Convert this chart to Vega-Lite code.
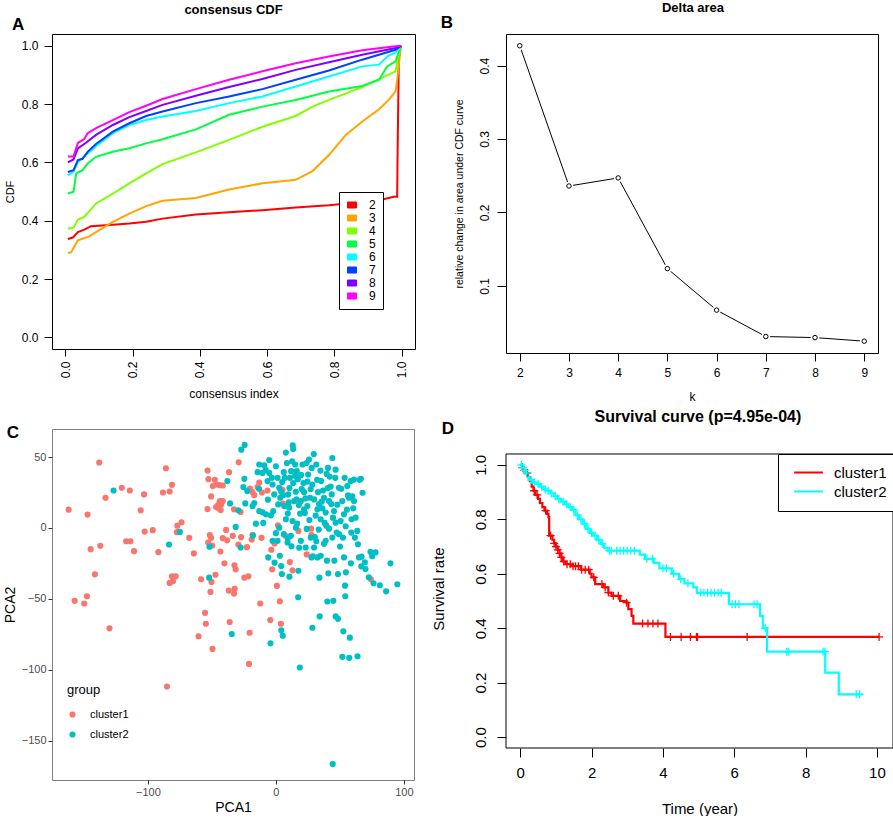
{
"$schema": "https://vega.github.io/schema/vega-lite/v6.json",
"padding": {"left": 2, "top": 1, "right": 0, "bottom": 0},
"columns": 2,
"bounds": "flush",
"spacing": {"row": 76, "column": 91},
"resolve": {"scale": {"color": "independent", "stroke": "independent"}, "legend": {"color": "independent", "stroke": "independent"}},
"config": {
 "font": "Liberation Sans",
 "view": {"stroke": "black", "strokeWidth": 1},
 "axis": {"grid": false, "domain": false, "tickColor": "black", "labelColor": "black", "titleColor": "black", "titleFontWeight": "normal", "labelOverlap": false, "labelFlush": false, "labelFont": "Liberation Sans", "titleFont": "Liberation Sans"},
 "legend": {"labelFont": "Liberation Sans", "titleFont": "Liberation Sans"}
},
"concat": [
{
 "width": 363, "height": 315,
 "layer": [
  {"data": {"values": [
{"k":"2","x":0.007,"y":0.337},{"k":"2","x":0.022,"y":0.342},{"k":"2","x":0.037,"y":0.361},{"k":"2","x":0.056,"y":0.369},{"k":"2","x":0.076,"y":0.381},{"k":"2","x":0.141,"y":0.386},{"k":"2","x":0.19,"y":0.39},{"k":"2","x":0.24,"y":0.396},{"k":"2","x":0.289,"y":0.407},{"k":"2","x":0.388,"y":0.421},{"k":"2","x":0.487,"y":0.429},{"k":"2","x":0.586,"y":0.436},{"k":"2","x":0.685,"y":0.445},{"k":"2","x":0.784,"y":0.453},{"k":"2","x":0.883,"y":0.464},{"k":"2","x":0.933,"y":0.47},{"k":"2","x":0.977,"y":0.482},{"k":"2","x":0.987,"y":0.482},{"k":"2","x":0.988,"y":0.608},{"k":"2","x":0.992,"y":0.975},{"k":"2","x":0.999,"y":1.0},
{"k":"3","x":0.007,"y":0.289},{"k":"3","x":0.017,"y":0.292},{"k":"3","x":0.037,"y":0.333},{"k":"3","x":0.071,"y":0.346},{"k":"3","x":0.091,"y":0.361},{"k":"3","x":0.141,"y":0.396},{"k":"3","x":0.19,"y":0.424},{"k":"3","x":0.24,"y":0.45},{"k":"3","x":0.289,"y":0.468},{"k":"3","x":0.388,"y":0.478},{"k":"3","x":0.487,"y":0.507},{"k":"3","x":0.586,"y":0.528},{"k":"3","x":0.685,"y":0.54},{"k":"3","x":0.735,"y":0.57},{"k":"3","x":0.784,"y":0.625},{"k":"3","x":0.834,"y":0.694},{"k":"3","x":0.883,"y":0.74},{"k":"3","x":0.933,"y":0.782},{"k":"3","x":0.962,"y":0.814},{"k":"3","x":0.982,"y":0.843},{"k":"3","x":0.987,"y":0.883},{"k":"3","x":0.997,"y":0.986},
{"k":"4","x":0.007,"y":0.372},{"k":"4","x":0.024,"y":0.376},{"k":"4","x":0.037,"y":0.404},{"k":"4","x":0.056,"y":0.413},{"k":"4","x":0.091,"y":0.459},{"k":"4","x":0.141,"y":0.493},{"k":"4","x":0.19,"y":0.528},{"k":"4","x":0.24,"y":0.562},{"k":"4","x":0.289,"y":0.594},{"k":"4","x":0.388,"y":0.634},{"k":"4","x":0.487,"y":0.677},{"k":"4","x":0.586,"y":0.722},{"k":"4","x":0.685,"y":0.759},{"k":"4","x":0.735,"y":0.791},{"k":"4","x":0.784,"y":0.814},{"k":"4","x":0.883,"y":0.858},{"k":"4","x":0.982,"y":0.912},{"k":"4","x":0.992,"y":0.975},{"k":"4","x":0.997,"y":0.992},
{"k":"5","x":0.007,"y":0.493},{"k":"5","x":0.024,"y":0.499},{"k":"5","x":0.032,"y":0.562},{"k":"5","x":0.051,"y":0.573},{"k":"5","x":0.066,"y":0.596},{"k":"5","x":0.091,"y":0.619},{"k":"5","x":0.141,"y":0.636},{"k":"5","x":0.19,"y":0.648},{"k":"5","x":0.24,"y":0.665},{"k":"5","x":0.289,"y":0.679},{"k":"5","x":0.388,"y":0.713},{"k":"5","x":0.487,"y":0.763},{"k":"5","x":0.586,"y":0.791},{"k":"5","x":0.685,"y":0.814},{"k":"5","x":0.784,"y":0.843},{"k":"5","x":0.883,"y":0.862},{"k":"5","x":0.933,"y":0.883},{"k":"5","x":0.957,"y":0.929},{"k":"5","x":0.982,"y":0.946},{"k":"5","x":0.997,"y":0.992},
{"k":"6","x":0.007,"y":0.555},{"k":"6","x":0.024,"y":0.568},{"k":"6","x":0.037,"y":0.6},{"k":"6","x":0.066,"y":0.63},{"k":"6","x":0.091,"y":0.655},{"k":"6","x":0.141,"y":0.7},{"k":"6","x":0.19,"y":0.728},{"k":"6","x":0.24,"y":0.745},{"k":"6","x":0.289,"y":0.757},{"k":"6","x":0.388,"y":0.776},{"k":"6","x":0.487,"y":0.803},{"k":"6","x":0.586,"y":0.826},{"k":"6","x":0.685,"y":0.86},{"k":"6","x":0.784,"y":0.894},{"k":"6","x":0.883,"y":0.929},{"k":"6","x":0.933,"y":0.935},{"k":"6","x":0.957,"y":0.963},{"k":"6","x":0.982,"y":0.977},{"k":"6","x":0.997,"y":0.995},
{"k":"7","x":0.007,"y":0.567},{"k":"7","x":0.024,"y":0.573},{"k":"7","x":0.037,"y":0.608},{"k":"7","x":0.051,"y":0.612},{"k":"7","x":0.066,"y":0.636},{"k":"7","x":0.091,"y":0.663},{"k":"7","x":0.141,"y":0.705},{"k":"7","x":0.19,"y":0.734},{"k":"7","x":0.24,"y":0.759},{"k":"7","x":0.289,"y":0.774},{"k":"7","x":0.388,"y":0.803},{"k":"7","x":0.487,"y":0.826},{"k":"7","x":0.586,"y":0.851},{"k":"7","x":0.685,"y":0.883},{"k":"7","x":0.784,"y":0.915},{"k":"7","x":0.883,"y":0.952},{"k":"7","x":0.982,"y":0.986},{"k":"7","x":0.997,"y":0.998},
{"k":"8","x":0.007,"y":0.6},{"k":"8","x":0.024,"y":0.61},{"k":"8","x":0.037,"y":0.648},{"k":"8","x":0.061,"y":0.667},{"k":"8","x":0.091,"y":0.694},{"k":"8","x":0.141,"y":0.728},{"k":"8","x":0.19,"y":0.755},{"k":"8","x":0.24,"y":0.776},{"k":"8","x":0.289,"y":0.797},{"k":"8","x":0.388,"y":0.828},{"k":"8","x":0.487,"y":0.858},{"k":"8","x":0.586,"y":0.886},{"k":"8","x":0.685,"y":0.917},{"k":"8","x":0.784,"y":0.943},{"k":"8","x":0.883,"y":0.969},{"k":"8","x":0.982,"y":0.992},{"k":"8","x":0.997,"y":1.0},
{"k":"9","x":0.007,"y":0.62},{"k":"9","x":0.024,"y":0.62},{"k":"9","x":0.037,"y":0.667},{"k":"9","x":0.056,"y":0.68},{"k":"9","x":0.066,"y":0.7},{"k":"9","x":0.091,"y":0.717},{"k":"9","x":0.141,"y":0.745},{"k":"9","x":0.19,"y":0.772},{"k":"9","x":0.24,"y":0.794},{"k":"9","x":0.289,"y":0.817},{"k":"9","x":0.388,"y":0.851},{"k":"9","x":0.487,"y":0.883},{"k":"9","x":0.586,"y":0.912},{"k":"9","x":0.685,"y":0.94},{"k":"9","x":0.784,"y":0.963},{"k":"9","x":0.883,"y":0.984},{"k":"9","x":0.982,"y":0.998},{"k":"9","x":0.997,"y":1.0}
  ]},
   "mark": {"type": "line", "strokeWidth": 2},
   "encoding": {
    "x": {"field": "x", "type": "quantitative", "scale": {"domain": [-0.04, 1.04], "nice": false, "zero": false},
      "axis": {"values": [0, 0.2, 0.4, 0.6, 0.8, 1], "format": ".1f", "labelAngle": -90, "labelAlign": "right", "labelBaseline": "middle", "tickSize": 7, "labelPadding": 5, "labelFontSize": 12, "title": "consensus index", "titleFontSize": 12, "titlePadding": 11}},
    "y": {"field": "y", "type": "quantitative", "scale": {"domain": [-0.04, 1.04], "nice": false, "zero": false},
      "axis": {"values": [0, 0.2, 0.4, 0.6, 0.8, 1], "format": ".1f", "tickSize": 8, "labelPadding": 6, "labelFontSize": 12, "title": "CDF", "titleFontSize": 11, "titlePadding": 6}},
    "color": {"field": "k", "type": "nominal", "scale": {"domain": ["2","3","4","5","6","7","8","9"], "range": ["#FF0000","#FFA500","#80FF00","#00FF40","#00FFFF","#0040FF","#8000FF","#FF00FF"]},
      "legend": {"title": null, "orient": "none", "legendX": 287, "legendY": 158, "symbolType": "M-1,-0.67L1,-0.67L1,0.67L-1,0.67Z", "symbolSize": 81, "labelFontSize": 12, "strokeColor": "black", "fillColor": "white", "padding": 7, "rowPadding": 1, "labelOffset": 11,
        "encode": {"symbols": {"update": {"fill": {"signal": "['#FF0000','#FFA500','#80FF00','#00FF40','#00FFFF','#0040FF','#8000FF','#FF00FF'][indexof(['2','3','4','5','6','7','8','9'], datum.value)]"}, "stroke": {"value": "black"}, "strokeWidth": {"value": 1}, "opacity": {"value": 1}}}}}}
   }},
  {"data": {"values": [{"t": "A"}]}, "mark": {"type": "text", "fontSize": 17, "fontWeight": "bold", "align": "center", "baseline": "middle"},
   "encoding": {"x": {"datum": -0.141}, "y": {"datum": 1.0709}, "text": {"field": "t"}}},
  {"data": {"values": [{"t": "consensus CDF"}]}, "mark": {"type": "text", "fontSize": 13, "fontWeight": "bold", "align": "center", "baseline": "alphabetic"},
   "encoding": {"x": {"datum": 0.5}, "y": {"datum": 1.1086}, "text": {"field": "t"}}}
 ]
},
{
 "width": 372, "height": 319,
 "data": {"values": [{"k":2,"area":0.427},{"k":3,"area":0.236},{"k":4,"area":0.247},{"k":5,"area":0.1235},{"k":6,"area":0.067},{"k":7,"area":0.031},{"k":8,"area":0.0296},{"k":9,"area":0.0247}]},
 "layer": [
  {"mark": {"type": "line", "color": "black", "strokeWidth": 1},
   "encoding": {
    "x": {"field": "k", "type": "quantitative", "scale": {"domain": [1.72, 9.28], "nice": false, "zero": false},
      "axis": {"values": [2,3,4,5,6,7,8,9], "tickSize": 8, "labelPadding": 6, "labelFontSize": 12, "title": "k", "titleFontSize": 12, "titlePadding": 13}},
    "y": {"field": "area", "type": "quantitative", "scale": {"domain": [0.0086, 0.443], "nice": false, "zero": false},
      "axis": {"values": [0.1, 0.2, 0.3, 0.4], "format": ".1f", "labelAngle": -90, "labelAlign": "center", "labelBaseline": "bottom", "tickSize": 9, "labelPadding": 6, "labelFontSize": 12, "title": "relative change in area under CDF curve", "titleFontSize": 10.5, "titlePadding": 14}}
   }},
  {"mark": {"type": "point", "shape": "circle", "filled": true, "color": "white", "size": 75, "opacity": 1},
   "encoding": {"x": {"field": "k", "type": "quantitative"}, "y": {"field": "area", "type": "quantitative"}}},
  {"mark": {"type": "point", "shape": "circle", "filled": false, "fill": "white", "stroke": "black", "strokeWidth": 1, "size": 20, "opacity": 1},
   "encoding": {"x": {"field": "k", "type": "quantitative"}, "y": {"field": "area", "type": "quantitative"}}},
  {"data": {"values": [{"t": "B"}]}, "mark": {"type": "text", "fontSize": 17, "fontWeight": "bold", "align": "center", "baseline": "middle"},
   "encoding": {"x": {"datum": 0.521}, "y": {"datum": 0.458}, "text": {"field": "t"}}},
  {"data": {"values": [{"t": "Delta area"}]}, "mark": {"type": "text", "fontSize": 13, "fontWeight": "bold", "align": "center", "baseline": "alphabetic"},
   "encoding": {"x": {"datum": 5.52}, "y": {"datum": 0.4723}, "text": {"field": "t"}}}
 ]
},
{
 "width": 362, "height": 351,
 "view": {"stroke": "#808080"},
 "layer": [
  {"data": {"values": [
{"group":"cluster1","pc1":-161.9,"pc2":12.9},{"group":"cluster1","pc1":-157.2,"pc2":-51.4},{"group":"cluster1","pc1":-149.7,"pc2":-53.3},{"group":"cluster1","pc1":-147.6,"pc2":-48.2},{"group":"cluster1","pc1":-147.1,"pc2":9.4},{"group":"cluster1","pc1":-144.7,"pc2":-15.0},{"group":"cluster1","pc1":-141.4,"pc2":-32.7},{"group":"cluster1","pc1":-138.0,"pc2":46.1},{"group":"cluster1","pc1":-137.2,"pc2":-12.6},{"group":"cluster1","pc1":-133.1,"pc2":21.3},{"group":"cluster1","pc1":-130.0,"pc2":-70.8},{"group":"cluster1","pc1":-120.4,"pc2":28.3},{"group":"cluster1","pc1":-117.0,"pc2":-9.4},{"group":"cluster1","pc1":-114.1,"pc2":26.4},{"group":"cluster1","pc1":-113.6,"pc2":-9.4},{"group":"cluster1","pc1":-110.8,"pc2":-16.4},{"group":"cluster1","pc1":-105.6,"pc2":12.4},{"group":"cluster1","pc1":-103.0,"pc2":23.6},{"group":"cluster1","pc1":-102.5,"pc2":-2.6},{"group":"cluster1","pc1":-96.2,"pc2":-1.6},{"group":"cluster1","pc1":-91.8,"pc2":-17.1},{"group":"cluster1","pc1":-88.2,"pc2":25.0},{"group":"cluster1","pc1":-85.9,"pc2":42.1},{"group":"cluster1","pc1":-83.0,"pc2":25.7},{"group":"cluster1","pc1":-81.2,"pc2":30.4},{"group":"cluster1","pc1":-85.1,"pc2":-111.8},{"group":"cluster1","pc1":-81.2,"pc2":-34.1},{"group":"cluster1","pc1":-83.0,"pc2":-38.8},{"group":"cluster1","pc1":-80.4,"pc2":-37.6},{"group":"cluster1","pc1":-78.3,"pc2":-34.1},{"group":"cluster1","pc1":-77.0,"pc2":1.6},{"group":"cluster1","pc1":-77.3,"pc2":-3.0},{"group":"cluster1","pc1":-73.7,"pc2":4.0},{"group":"cluster1","pc1":-67.7,"pc2":-7.0},{"group":"cluster1","pc1":-64.1,"pc2":-18.0},{"group":"cluster1","pc1":-58.4,"pc2":-36.2},{"group":"cluster1","pc1":-55.3,"pc2":-59.9},{"group":"cluster1","pc1":-54.7,"pc2":-67.6},{"group":"cluster1","pc1":-53.4,"pc2":40.4},{"group":"cluster1","pc1":-52.7,"pc2":34.4},{"group":"cluster1","pc1":-53.4,"pc2":13.3},{"group":"cluster1","pc1":-50.6,"pc2":22.2},{"group":"cluster1","pc1":-52.9,"pc2":-10.3},{"group":"cluster1","pc1":-51.6,"pc2":-5.1},{"group":"cluster1","pc1":-50.6,"pc2":-7.0},{"group":"cluster1","pc1":-49.8,"pc2":-12.4},{"group":"cluster1","pc1":-50.3,"pc2":-38.1},{"group":"cluster1","pc1":-51.1,"pc2":-45.1},{"group":"cluster1","pc1":-49.5,"pc2":-85.3},{"group":"cluster1","pc1":-47.7,"pc2":33.9},{"group":"cluster1","pc1":-49.3,"pc2":29.5},{"group":"cluster1","pc1":-47.2,"pc2":-33.0},{"group":"cluster1","pc1":-46.2,"pc2":30.6},{"group":"cluster1","pc1":-45.4,"pc2":15.7},{"group":"cluster1","pc1":-44.1,"pc2":18.0},{"group":"cluster1","pc1":-42.8,"pc2":16.6},{"group":"cluster1","pc1":-41.5,"pc2":18.9},{"group":"cluster1","pc1":-43.1,"pc2":12.6},{"group":"cluster1","pc1":-41.5,"pc2":29.9},{"group":"cluster1","pc1":-43.3,"pc2":-16.6},{"group":"cluster1","pc1":-38.9,"pc2":-1.4},{"group":"cluster1","pc1":-38.1,"pc2":-8.7},{"group":"cluster1","pc1":-36.8,"pc2":-44.2},{"group":"cluster1","pc1":-36.1,"pc2":-66.4},{"group":"cluster1","pc1":-36.6,"pc2":39.3},{"group":"cluster1","pc1":-32.7,"pc2":13.1},{"group":"cluster1","pc1":-33.7,"pc2":-5.6},{"group":"cluster1","pc1":-32.4,"pc2":-26.4},{"group":"cluster1","pc1":-32.2,"pc2":-43.0},{"group":"cluster1","pc1":-32.7,"pc2":-46.3},{"group":"cluster1","pc1":-31.4,"pc2":-29.2},{"group":"cluster1","pc1":-29.3,"pc2":-11.7},{"group":"cluster1","pc1":-29.1,"pc2":46.3},{"group":"cluster1","pc1":-24.6,"pc2":-35.1},{"group":"cluster1","pc1":-21.5,"pc2":-34.1},{"group":"cluster1","pc1":-20.5,"pc2":-73.9},{"group":"cluster1","pc1":-21.0,"pc2":-95.9},{"group":"cluster1","pc1":-20.2,"pc2":27.8},{"group":"cluster1","pc1":-18.2,"pc2":25.2},{"group":"cluster1","pc1":-16.9,"pc2":23.1},{"group":"cluster1","pc1":-18.9,"pc2":-8.2},{"group":"cluster1","pc1":-13.0,"pc2":32.0},{"group":"cluster1","pc1":-14.3,"pc2":28.8},{"group":"cluster1","pc1":-12.2,"pc2":-53.3},{"group":"cluster1","pc1":-11.2,"pc2":-7.0},{"group":"cluster1","pc1":-6.5,"pc2":26.4},{"group":"cluster1","pc1":-4.4,"pc2":-65.0},{"group":"cluster1","pc1":-3.6,"pc2":-15.4},{"group":"cluster1","pc1":-2.9,"pc2":-29.2},{"group":"cluster1","pc1":-1.0,"pc2":-11.0},{"group":"cluster1","pc1":0.8,"pc2":-40.9},{"group":"cluster1","pc1":1.6,"pc2":1.9},{"group":"cluster1","pc1":3.1,"pc2":-51.7},{"group":"cluster1","pc1":3.9,"pc2":-67.6},{"group":"cluster1","pc1":5.4,"pc2":17.1},{"group":"cluster1","pc1":7.3,"pc2":-5.4},{"group":"cluster1","pc1":10.9,"pc2":-24.1},{"group":"cluster1","pc1":13.0,"pc2":-29.9},{"group":"cluster1","pc1":17.6,"pc2":-2.1},{"group":"cluster1","pc1":24.1,"pc2":-18.7},{"group":"cluster1","pc1":27.5,"pc2":-0.5},{"group":"cluster1","pc1":27.8,"pc2":-5.1},{"group":"cluster1","pc1":74.2,"pc2":-36.2},{"group":"cluster1","pc1":5.2,"pc2":26.9},{"group":"cluster1","pc1":-10.9,"pc2":25.0},{"group":"cluster1","pc1":-22.6,"pc2":-13.6},{"group":"cluster1","pc1":-27.2,"pc2":-6.5},{"group":"cluster1","pc1":-41.5,"pc2":-7.2},{"group":"cluster1","pc1":-18.2,"pc2":-4.9},{"group":"cluster1","pc1":-27.5,"pc2":11.2},{"group":"cluster1","pc1":-44.1,"pc2":30.2},{"group":"cluster1","pc1":-46.7,"pc2":14.7},{"group":"cluster1","pc1":-44.6,"pc2":13.8},{"group":"cluster1","pc1":-43.6,"pc2":18.9},{"group":"cluster1","pc1":-40.2,"pc2":-25.0},{"group":"cluster1","pc1":-60.4,"pc2":-76.4},
{"group":"cluster2","pc1":-126.8,"pc2":26.4},{"group":"cluster2","pc1":-83.5,"pc2":-11.7},{"group":"cluster2","pc1":-75.0,"pc2":-2.8},{"group":"cluster2","pc1":-51.9,"pc2":-13.3},{"group":"cluster2","pc1":-52.1,"pc2":-35.1},{"group":"cluster2","pc1":-34.5,"pc2":-74.8},{"group":"cluster2","pc1":-37.9,"pc2":33.0},{"group":"cluster2","pc1":-35.8,"pc2":17.3},{"group":"cluster2","pc1":-31.4,"pc2":0.7},{"group":"cluster2","pc1":-29.3,"pc2":12.4},{"group":"cluster2","pc1":-27.5,"pc2":-13.8},{"group":"cluster2","pc1":-27.0,"pc2":55.2},{"group":"cluster2","pc1":-24.4,"pc2":58.5},{"group":"cluster2","pc1":-24.6,"pc2":34.6},{"group":"cluster2","pc1":-25.4,"pc2":28.8},{"group":"cluster2","pc1":-23.9,"pc2":17.3},{"group":"cluster2","pc1":-22.3,"pc2":26.0},{"group":"cluster2","pc1":-17.9,"pc2":-5.4},{"group":"cluster2","pc1":-14.3,"pc2":39.3},{"group":"cluster2","pc1":-16.9,"pc2":17.5},{"group":"cluster2","pc1":-15.6,"pc2":3.0},{"group":"cluster2","pc1":-13.2,"pc2":27.6},{"group":"cluster2","pc1":-10.4,"pc2":11.0},{"group":"cluster2","pc1":-9.9,"pc2":3.5},{"group":"cluster2","pc1":-9.1,"pc2":44.2},{"group":"cluster2","pc1":-8.0,"pc2":40.9},{"group":"cluster2","pc1":-6.5,"pc2":33.0},{"group":"cluster2","pc1":-6.2,"pc2":19.9},{"group":"cluster2","pc1":-5.2,"pc2":47.9},{"group":"cluster2","pc1":-3.1,"pc2":35.3},{"group":"cluster2","pc1":-3.9,"pc2":8.9},{"group":"cluster2","pc1":-4.2,"pc2":-81.4},{"group":"cluster2","pc1":-6.0,"pc2":-20.8},{"group":"cluster2","pc1":-2.6,"pc2":30.6},{"group":"cluster2","pc1":-1.3,"pc2":23.6},{"group":"cluster2","pc1":-2.1,"pc2":11.9},{"group":"cluster2","pc1":0.0,"pc2":-3.7},{"group":"cluster2","pc1":-1.0,"pc2":-24.5},{"group":"cluster2","pc1":1.3,"pc2":35.3},{"group":"cluster2","pc1":2.6,"pc2":28.3},{"group":"cluster2","pc1":3.4,"pc2":21.3},{"group":"cluster2","pc1":4.2,"pc2":25.5},{"group":"cluster2","pc1":4.9,"pc2":32.3},{"group":"cluster2","pc1":6.2,"pc2":39.3},{"group":"cluster2","pc1":5.7,"pc2":23.1},{"group":"cluster2","pc1":6.5,"pc2":15.4},{"group":"cluster2","pc1":7.8,"pc2":53.1},{"group":"cluster2","pc1":6.2,"pc2":-4.4},{"group":"cluster2","pc1":5.4,"pc2":-76.0},{"group":"cluster2","pc1":4.2,"pc2":-72.2},{"group":"cluster2","pc1":4.2,"pc2":-26.9},{"group":"cluster2","pc1":4.7,"pc2":-32.5},{"group":"cluster2","pc1":3.1,"pc2":-19.6},{"group":"cluster2","pc1":9.3,"pc2":-7.5},{"group":"cluster2","pc1":9.3,"pc2":10.1},{"group":"cluster2","pc1":10.1,"pc2":18.0},{"group":"cluster2","pc1":9.6,"pc2":23.6},{"group":"cluster2","pc1":10.6,"pc2":28.1},{"group":"cluster2","pc1":10.9,"pc2":35.3},{"group":"cluster2","pc1":11.9,"pc2":40.0},{"group":"cluster2","pc1":12.7,"pc2":47.0},{"group":"cluster2","pc1":13.2,"pc2":58.2},{"group":"cluster2","pc1":13.5,"pc2":55.6},{"group":"cluster2","pc1":11.7,"pc2":-5.6},{"group":"cluster2","pc1":12.2,"pc2":-12.9},{"group":"cluster2","pc1":13.5,"pc2":31.6},{"group":"cluster2","pc1":15.0,"pc2":36.7},{"group":"cluster2","pc1":15.6,"pc2":25.5},{"group":"cluster2","pc1":16.3,"pc2":40.0},{"group":"cluster2","pc1":17.1,"pc2":34.4},{"group":"cluster2","pc1":17.9,"pc2":16.1},{"group":"cluster2","pc1":18.9,"pc2":10.1},{"group":"cluster2","pc1":17.6,"pc2":-30.2},{"group":"cluster2","pc1":18.2,"pc2":-14.0},{"group":"cluster2","pc1":16.1,"pc2":20.1},{"group":"cluster2","pc1":16.6,"pc2":3.0},{"group":"cluster2","pc1":17.4,"pc2":-48.9},{"group":"cluster2","pc1":18.7,"pc2":-98.4},{"group":"cluster2","pc1":19.7,"pc2":37.4},{"group":"cluster2","pc1":20.2,"pc2":27.4},{"group":"cluster2","pc1":21.5,"pc2":31.6},{"group":"cluster2","pc1":22.0,"pc2":25.2},{"group":"cluster2","pc1":22.6,"pc2":10.5},{"group":"cluster2","pc1":23.1,"pc2":20.8},{"group":"cluster2","pc1":23.9,"pc2":45.8},{"group":"cluster2","pc1":24.1,"pc2":-0.7},{"group":"cluster2","pc1":24.6,"pc2":32.7},{"group":"cluster2","pc1":25.2,"pc2":37.6},{"group":"cluster2","pc1":26.2,"pc2":5.6},{"group":"cluster2","pc1":26.7,"pc2":21.3},{"group":"cluster2","pc1":27.2,"pc2":27.4},{"group":"cluster2","pc1":28.0,"pc2":42.3},{"group":"cluster2","pc1":28.5,"pc2":-70.4},{"group":"cluster2","pc1":28.8,"pc2":-20.1},{"group":"cluster2","pc1":29.6,"pc2":52.1},{"group":"cluster2","pc1":30.4,"pc2":-6.5},{"group":"cluster2","pc1":31.1,"pc2":8.7},{"group":"cluster2","pc1":31.6,"pc2":-9.4},{"group":"cluster2","pc1":32.2,"pc2":33.9},{"group":"cluster2","pc1":32.9,"pc2":25.2},{"group":"cluster2","pc1":33.5,"pc2":-1.2},{"group":"cluster2","pc1":33.7,"pc2":16.8},{"group":"cluster2","pc1":34.0,"pc2":-35.1},{"group":"cluster2","pc1":34.2,"pc2":-62.4},{"group":"cluster2","pc1":34.8,"pc2":40.4},{"group":"cluster2","pc1":35.3,"pc2":33.0},{"group":"cluster2","pc1":35.8,"pc2":18.5},{"group":"cluster2","pc1":36.3,"pc2":13.8},{"group":"cluster2","pc1":36.8,"pc2":26.4},{"group":"cluster2","pc1":37.6,"pc2":-11.2},{"group":"cluster2","pc1":38.1,"pc2":3.5},{"group":"cluster2","pc1":39.4,"pc2":1.6},{"group":"cluster2","pc1":39.9,"pc2":-23.1},{"group":"cluster2","pc1":39.7,"pc2":38.1},{"group":"cluster2","pc1":40.5,"pc2":28.1},{"group":"cluster2","pc1":40.7,"pc2":42.3},{"group":"cluster2","pc1":41.5,"pc2":-0.5},{"group":"cluster2","pc1":42.0,"pc2":36.2},{"group":"cluster2","pc1":42.8,"pc2":29.2},{"group":"cluster2","pc1":43.3,"pc2":16.8},{"group":"cluster2","pc1":44.1,"pc2":-6.8},{"group":"cluster2","pc1":44.6,"pc2":7.2},{"group":"cluster2","pc1":44.9,"pc2":-51.4},{"group":"cluster2","pc1":45.7,"pc2":-23.1},{"group":"cluster2","pc1":46.4,"pc2":35.3},{"group":"cluster2","pc1":46.7,"pc2":41.1},{"group":"cluster2","pc1":47.5,"pc2":-3.3},{"group":"cluster2","pc1":48.0,"pc2":16.4},{"group":"cluster2","pc1":48.5,"pc2":-32.5},{"group":"cluster2","pc1":50.1,"pc2":-13.1},{"group":"cluster2","pc1":50.6,"pc2":4.9},{"group":"cluster2","pc1":51.1,"pc2":27.6},{"group":"cluster2","pc1":51.9,"pc2":-90.9},{"group":"cluster2","pc1":52.7,"pc2":-72.9},{"group":"cluster2","pc1":53.2,"pc2":-20.8},{"group":"cluster2","pc1":53.7,"pc2":35.3},{"group":"cluster2","pc1":54.0,"pc2":-40.7},{"group":"cluster2","pc1":54.2,"pc2":-48.2},{"group":"cluster2","pc1":54.5,"pc2":1.2},{"group":"cluster2","pc1":54.7,"pc2":-31.3},{"group":"cluster2","pc1":55.5,"pc2":12.9},{"group":"cluster2","pc1":56.3,"pc2":22.9},{"group":"cluster2","pc1":57.1,"pc2":21.3},{"group":"cluster2","pc1":57.3,"pc2":-91.6},{"group":"cluster2","pc1":57.8,"pc2":-77.4},{"group":"cluster2","pc1":58.9,"pc2":-3.3},{"group":"cluster2","pc1":59.1,"pc2":6.1},{"group":"cluster2","pc1":59.7,"pc2":22.2},{"group":"cluster2","pc1":60.4,"pc2":13.8},{"group":"cluster2","pc1":61.0,"pc2":34.1},{"group":"cluster2","pc1":61.7,"pc2":-6.8},{"group":"cluster2","pc1":63.8,"pc2":-90.5},{"group":"cluster2","pc1":64.1,"pc2":-11.5},{"group":"cluster2","pc1":64.9,"pc2":-20.8},{"group":"cluster2","pc1":65.4,"pc2":33.9},{"group":"cluster2","pc1":66.4,"pc2":34.6},{"group":"cluster2","pc1":66.7,"pc2":-27.1},{"group":"cluster2","pc1":67.7,"pc2":24.8},{"group":"cluster2","pc1":69.5,"pc2":-24.3},{"group":"cluster2","pc1":72.6,"pc2":-34.8},{"group":"cluster2","pc1":73.9,"pc2":-16.8},{"group":"cluster2","pc1":75.2,"pc2":-19.9},{"group":"cluster2","pc1":76.3,"pc2":-39.0},{"group":"cluster2","pc1":77.8,"pc2":-17.3},{"group":"cluster2","pc1":81.2,"pc2":-40.4},{"group":"cluster2","pc1":86.1,"pc2":-44.7},{"group":"cluster2","pc1":89.5,"pc2":-25.0},{"group":"cluster2","pc1":94.9,"pc2":-39.7},{"group":"cluster2","pc1":44.1,"pc2":49.3},{"group":"cluster2","pc1":-13.0,"pc2":44.7},{"group":"cluster2","pc1":-10.4,"pc2":38.8},{"group":"cluster2","pc1":-5.2,"pc2":38.8},{"group":"cluster2","pc1":0.0,"pc2":43.5},{"group":"cluster2","pc1":1.8,"pc2":16.6},{"group":"cluster2","pc1":7.0,"pc2":35.3},{"group":"cluster2","pc1":8.6,"pc2":45.8},{"group":"cluster2","pc1":10.4,"pc2":14.3},{"group":"cluster2","pc1":14.3,"pc2":18.9},{"group":"cluster2","pc1":15.0,"pc2":44.7},{"group":"cluster2","pc1":19.5,"pc2":18.9},{"group":"cluster2","pc1":20.8,"pc2":44.7},{"group":"cluster2","pc1":22.0,"pc2":13.1},{"group":"cluster2","pc1":24.6,"pc2":15.4},{"group":"cluster2","pc1":25.9,"pc2":48.2},{"group":"cluster2","pc1":28.5,"pc2":30.6},{"group":"cluster2","pc1":29.8,"pc2":20.1},{"group":"cluster2","pc1":31.6,"pc2":44.7},{"group":"cluster2","pc1":32.4,"pc2":13.1},{"group":"cluster2","pc1":35.0,"pc2":6.1},{"group":"cluster2","pc1":37.6,"pc2":21.3},{"group":"cluster2","pc1":38.9,"pc2":10.8},{"group":"cluster2","pc1":41.5,"pc2":18.9},{"group":"cluster2","pc1":43.6,"pc2":23.6},{"group":"cluster2","pc1":45.4,"pc2":11.9},{"group":"cluster2","pc1":46.7,"pc2":3.7},{"group":"cluster2","pc1":49.3,"pc2":-4.4},{"group":"cluster2","pc1":51.9,"pc2":18.9},{"group":"cluster2","pc1":53.2,"pc2":9.6},{"group":"cluster2","pc1":55.8,"pc2":29.5},{"group":"cluster2","pc1":58.4,"pc2":33.0},{"group":"cluster2","pc1":61.0,"pc2":18.9},{"group":"cluster2","pc1":62.3,"pc2":7.2},{"group":"cluster2","pc1":63.6,"pc2":-2.1},{"group":"cluster2","pc1":15.6,"pc2":0.2},{"group":"cluster2","pc1":19.5,"pc2":-9.1},{"group":"cluster2","pc1":23.3,"pc2":-13.8},{"group":"cluster2","pc1":27.2,"pc2":-6.8},{"group":"cluster2","pc1":29.8,"pc2":-13.8},{"group":"cluster2","pc1":35.0,"pc2":-19.6},{"group":"cluster2","pc1":38.9,"pc2":-9.1},{"group":"cluster2","pc1":49.3,"pc2":28.3},{"group":"cluster2","pc1":52.4,"pc2":-6.8},{"group":"cluster2","pc1":9.1,"pc2":-10.3},{"group":"cluster2","pc1":1.3,"pc2":-9.1},{"group":"cluster2","pc1":-2.6,"pc2":-9.1},{"group":"cluster2","pc1":2.6,"pc2":0.2},{"group":"cluster2","pc1":13.0,"pc2":4.9},{"group":"cluster2","pc1":7.8,"pc2":6.1},{"group":"cluster2","pc1":-7.8,"pc2":9.6},{"group":"cluster2","pc1":-13.0,"pc2":11.9},{"group":"cluster2","pc1":-18.2,"pc2":15.4},{"group":"cluster2","pc1":10.6,"pc2":-34.4},{"group":"cluster2","pc1":40.2,"pc2":-51.9},{"group":"cluster2","pc1":46.7,"pc2":-62.4},{"group":"cluster2","pc1":48.5,"pc2":-64.1},{"group":"cluster2","pc1":41.0,"pc2":-32.0},{"group":"cluster2","pc1":58.6,"pc2":-25.0},{"group":"cluster2","pc1":70.0,"pc2":-29.0},{"group":"cluster2","pc1":27.8,"pc2":-20.8},{"group":"cluster2","pc1":32.4,"pc2":-20.8},{"group":"cluster2","pc1":66.9,"pc2":-20.3},{"group":"cluster2","pc1":44.4,"pc2":-166.5}
  ]},
   "mark": {"type": "circle", "size": 38, "opacity": 1},
   "encoding": {
    "x": {"field": "pc1", "type": "quantitative", "scale": {"domain": [-174.9, 107.9], "nice": false, "zero": false},
      "axis": {"values": [-100, 0, 100], "tickSize": 4, "tickColor": "#333333", "labelColor": "#4d4d4d", "labelFontSize": 11, "labelPadding": 2, "title": "PCA1", "titleFontSize": 14, "titlePadding": 3}},
    "y": {"field": "pc2", "type": "quantitative", "scale": {"domain": [-177.75, 69.75], "nice": false, "zero": false},
      "axis": {"values": [-150, -100, -50, 0, 50], "tickSize": 4, "tickColor": "#333333", "labelColor": "#4d4d4d", "labelFontSize": 11, "labelPadding": 2, "title": "PCA2", "titleFontSize": 14, "titlePadding": 4}},
    "color": {"field": "group", "type": "nominal", "scale": {"domain": ["cluster1", "cluster2"], "range": ["#F8766D", "#00BFC4"]},
      "legend": {"title": "group", "orient": "none", "legendX": 15, "legendY": 255, "titleFontSize": 13, "titleFontWeight": "normal", "titleColor": "black", "labelFontSize": 11, "labelColor": "black", "symbolType": "circle", "symbolSize": 38, "symbolOpacity": 1, "rowPadding": 8, "titlePadding": 12, "labelOffset": 12}}
   }},
  {"data": {"values": [{"t": "C"}]}, "mark": {"type": "text", "fontSize": 17, "fontWeight": "bold", "align": "center", "baseline": "middle"},
   "encoding": {"x": {"datum": -205.4}, "y": {"datum": 66.93}, "text": {"field": "t"}}}
 ]
},
{
 "width": 387, "height": 319,
 "view": {"stroke": null},
 "layer": [
  {"data": {"values": [
{"cluster":"cluster1","time":0,"surv":1.0},{"cluster":"cluster1","time":0.05,"surv":0.99},{"cluster":"cluster1","time":0.1,"surv":0.98},{"cluster":"cluster1","time":0.15,"surv":0.97},{"cluster":"cluster1","time":0.22,"surv":0.955},{"cluster":"cluster1","time":0.27,"surv":0.94},{"cluster":"cluster1","time":0.32,"surv":0.92},{"cluster":"cluster1","time":0.37,"surv":0.905},{"cluster":"cluster1","time":0.42,"surv":0.89},{"cluster":"cluster1","time":0.5,"surv":0.875},{"cluster":"cluster1","time":0.55,"surv":0.86},{"cluster":"cluster1","time":0.62,"surv":0.845},{"cluster":"cluster1","time":0.68,"surv":0.832},{"cluster":"cluster1","time":0.75,"surv":0.82},{"cluster":"cluster1","time":0.79,"surv":0.808},{"cluster":"cluster1","time":0.81,"surv":0.74},{"cluster":"cluster1","time":0.9,"surv":0.725},{"cluster":"cluster1","time":0.95,"surv":0.712},{"cluster":"cluster1","time":1.0,"surv":0.7},{"cluster":"cluster1","time":1.05,"surv":0.688},{"cluster":"cluster1","time":1.1,"surv":0.675},{"cluster":"cluster1","time":1.15,"surv":0.66},{"cluster":"cluster1","time":1.2,"surv":0.645},{"cluster":"cluster1","time":1.27,"surv":0.635},{"cluster":"cluster1","time":1.45,"surv":0.628},{"cluster":"cluster1","time":1.7,"surv":0.615},{"cluster":"cluster1","time":1.95,"surv":0.6},{"cluster":"cluster1","time":2.0,"surv":0.587},{"cluster":"cluster1","time":2.1,"surv":0.562},{"cluster":"cluster1","time":2.33,"surv":0.55},{"cluster":"cluster1","time":2.47,"surv":0.531},{"cluster":"cluster1","time":2.56,"surv":0.519},{"cluster":"cluster1","time":2.8,"surv":0.5},{"cluster":"cluster1","time":2.98,"surv":0.494},{"cluster":"cluster1","time":3.03,"surv":0.47},{"cluster":"cluster1","time":3.12,"surv":0.445},{"cluster":"cluster1","time":3.17,"surv":0.417},{"cluster":"cluster1","time":4.07,"surv":0.368},{"cluster":"cluster1","time":10.06,"surv":0.368},
{"cluster":"cluster2","time":0,"surv":1.0},{"cluster":"cluster2","time":0.05,"surv":0.99},{"cluster":"cluster2","time":0.1,"surv":0.98},{"cluster":"cluster2","time":0.15,"surv":0.97},{"cluster":"cluster2","time":0.2,"surv":0.955},{"cluster":"cluster2","time":0.25,"surv":0.945},{"cluster":"cluster2","time":0.35,"surv":0.935},{"cluster":"cluster2","time":0.45,"surv":0.93},{"cluster":"cluster2","time":0.55,"surv":0.92},{"cluster":"cluster2","time":0.65,"surv":0.91},{"cluster":"cluster2","time":0.75,"surv":0.905},{"cluster":"cluster2","time":0.85,"surv":0.895},{"cluster":"cluster2","time":0.95,"surv":0.885},{"cluster":"cluster2","time":1.05,"surv":0.875},{"cluster":"cluster2","time":1.15,"surv":0.865},{"cluster":"cluster2","time":1.25,"surv":0.855},{"cluster":"cluster2","time":1.35,"surv":0.845},{"cluster":"cluster2","time":1.45,"surv":0.835},{"cluster":"cluster2","time":1.55,"surv":0.815},{"cluster":"cluster2","time":1.65,"surv":0.8},{"cluster":"cluster2","time":1.75,"surv":0.783},{"cluster":"cluster2","time":1.85,"surv":0.765},{"cluster":"cluster2","time":1.95,"surv":0.75},{"cluster":"cluster2","time":2.05,"surv":0.74},{"cluster":"cluster2","time":2.15,"surv":0.725},{"cluster":"cluster2","time":2.25,"surv":0.71},{"cluster":"cluster2","time":2.35,"surv":0.695},{"cluster":"cluster2","time":2.45,"surv":0.685},{"cluster":"cluster2","time":3.35,"surv":0.67},{"cluster":"cluster2","time":3.5,"surv":0.655},{"cluster":"cluster2","time":3.75,"surv":0.64},{"cluster":"cluster2","time":3.9,"surv":0.62},{"cluster":"cluster2","time":4.25,"surv":0.6},{"cluster":"cluster2","time":4.45,"surv":0.58},{"cluster":"cluster2","time":4.6,"surv":0.565},{"cluster":"cluster2","time":4.85,"surv":0.55},{"cluster":"cluster2","time":4.95,"surv":0.53},{"cluster":"cluster2","time":5.85,"surv":0.488},{"cluster":"cluster2","time":6.72,"surv":0.445},{"cluster":"cluster2","time":6.8,"surv":0.4},{"cluster":"cluster2","time":6.92,"surv":0.314},{"cluster":"cluster2","time":8.55,"surv":0.237},{"cluster":"cluster2","time":8.93,"surv":0.157},{"cluster":"cluster2","time":9.6,"surv":0.157}
  ]},
   "mark": {"type": "line", "interpolate": "step-after", "strokeWidth": 2.2},
   "encoding": {
    "x": {"field": "time", "type": "quantitative", "scale": {"domain": [-0.4, 10.45], "nice": false, "zero": false},
      "axis": {"values": [0, 2, 4, 6, 8, 10], "tickSize": 9, "labelPadding": 8, "labelFontSize": 15, "title": "Time (year)", "titleFontSize": 15, "titlePadding": 21}},
    "y": {"field": "surv", "type": "quantitative", "scale": {"domain": [-0.04, 1.1318], "nice": false, "zero": false},
      "axis": {"values": [0, 0.2, 0.4, 0.6, 0.8, 1], "format": ".1f", "labelAngle": -90, "labelAlign": "center", "labelBaseline": "bottom", "tickSize": 9, "labelPadding": 9, "labelFontSize": 15, "title": "Survival rate", "titleFontSize": 15, "titlePadding": 27}},
    "color": {"field": "cluster", "type": "nominal", "scale": {"domain": ["cluster1", "cluster2"], "range": ["#FF0000", "#00FFFF"]},
      "legend": {"title": null, "orient": "none", "legendX": 272, "legendY": 25, "symbolType": "M-0.6,0L6.6,0", "symbolSize": 64, "symbolStrokeWidth": 2, "labelFontSize": 15, "labelColor": "black", "strokeColor": "black", "fillColor": "white", "padding": 11, "rowPadding": 3, "labelOffset": 30}}
   }},
  {"data": {"values": [
{"cluster":"cluster1","time":0.06,"surv":0.99},{"cluster":"cluster1","time":0.11,"surv":0.98},{"cluster":"cluster1","time":0.2,"surv":0.97},{"cluster":"cluster1","time":0.39,"surv":0.905},{"cluster":"cluster1","time":0.47,"surv":0.89},{"cluster":"cluster1","time":0.71,"surv":0.832},{"cluster":"cluster1","time":0.85,"surv":0.74},{"cluster":"cluster1","time":0.95,"surv":0.712},{"cluster":"cluster1","time":1.0,"surv":0.7},{"cluster":"cluster1","time":1.05,"surv":0.688},{"cluster":"cluster1","time":1.1,"surv":0.675},{"cluster":"cluster1","time":1.15,"surv":0.66},{"cluster":"cluster1","time":1.22,"surv":0.645},{"cluster":"cluster1","time":1.31,"surv":0.635},{"cluster":"cluster1","time":1.4,"surv":0.635},{"cluster":"cluster1","time":1.48,"surv":0.628},{"cluster":"cluster1","time":1.55,"surv":0.628},{"cluster":"cluster1","time":1.63,"surv":0.628},{"cluster":"cluster1","time":1.72,"surv":0.615},{"cluster":"cluster1","time":1.82,"surv":0.615},{"cluster":"cluster1","time":1.92,"surv":0.615},{"cluster":"cluster1","time":2.06,"surv":0.587},{"cluster":"cluster1","time":2.29,"surv":0.562},{"cluster":"cluster1","time":2.38,"surv":0.55},{"cluster":"cluster1","time":2.47,"surv":0.531},{"cluster":"cluster1","time":2.61,"surv":0.519},{"cluster":"cluster1","time":2.75,"surv":0.519},{"cluster":"cluster1","time":2.98,"surv":0.494},{"cluster":"cluster1","time":3.43,"surv":0.417},{"cluster":"cluster1","time":3.58,"surv":0.417},{"cluster":"cluster1","time":3.72,"surv":0.417},{"cluster":"cluster1","time":3.86,"surv":0.417},{"cluster":"cluster1","time":4.21,"surv":0.368},{"cluster":"cluster1","time":4.51,"surv":0.368},{"cluster":"cluster1","time":4.77,"surv":0.368},{"cluster":"cluster1","time":4.94,"surv":0.368},{"cluster":"cluster1","time":4.97,"surv":0.368},{"cluster":"cluster1","time":6.36,"surv":0.368},{"cluster":"cluster1","time":10.06,"surv":0.368},
{"cluster":"cluster2","time":0.03,"surv":1.0},{"cluster":"cluster2","time":0.08,"surv":0.99},{"cluster":"cluster2","time":0.12,"surv":0.98},{"cluster":"cluster2","time":0.18,"surv":0.97},{"cluster":"cluster2","time":0.3,"surv":0.945},{"cluster":"cluster2","time":0.4,"surv":0.935},{"cluster":"cluster2","time":0.5,"surv":0.93},{"cluster":"cluster2","time":0.6,"surv":0.92},{"cluster":"cluster2","time":0.7,"surv":0.91},{"cluster":"cluster2","time":0.78,"surv":0.905},{"cluster":"cluster2","time":0.88,"surv":0.895},{"cluster":"cluster2","time":0.98,"surv":0.885},{"cluster":"cluster2","time":1.08,"surv":0.875},{"cluster":"cluster2","time":1.2,"surv":0.865},{"cluster":"cluster2","time":1.3,"surv":0.855},{"cluster":"cluster2","time":1.4,"surv":0.845},{"cluster":"cluster2","time":1.5,"surv":0.835},{"cluster":"cluster2","time":1.6,"surv":0.815},{"cluster":"cluster2","time":1.7,"surv":0.8},{"cluster":"cluster2","time":1.8,"surv":0.783},{"cluster":"cluster2","time":1.9,"surv":0.765},{"cluster":"cluster2","time":2.0,"surv":0.75},{"cluster":"cluster2","time":2.1,"surv":0.74},{"cluster":"cluster2","time":2.2,"surv":0.725},{"cluster":"cluster2","time":2.3,"surv":0.71},{"cluster":"cluster2","time":2.5,"surv":0.685},{"cluster":"cluster2","time":2.55,"surv":0.685},{"cluster":"cluster2","time":2.7,"surv":0.685},{"cluster":"cluster2","time":2.8,"surv":0.685},{"cluster":"cluster2","time":2.9,"surv":0.685},{"cluster":"cluster2","time":3.0,"surv":0.685},{"cluster":"cluster2","time":3.1,"surv":0.685},{"cluster":"cluster2","time":3.2,"surv":0.685},{"cluster":"cluster2","time":3.55,"surv":0.655},{"cluster":"cluster2","time":3.7,"surv":0.655},{"cluster":"cluster2","time":4.0,"surv":0.62},{"cluster":"cluster2","time":4.1,"surv":0.62},{"cluster":"cluster2","time":4.3,"surv":0.6},{"cluster":"cluster2","time":4.5,"surv":0.58},{"cluster":"cluster2","time":4.7,"surv":0.565},{"cluster":"cluster2","time":5.06,"surv":0.53},{"cluster":"cluster2","time":5.15,"surv":0.53},{"cluster":"cluster2","time":5.25,"surv":0.53},{"cluster":"cluster2","time":5.35,"surv":0.53},{"cluster":"cluster2","time":5.45,"surv":0.53},{"cluster":"cluster2","time":5.55,"surv":0.53},{"cluster":"cluster2","time":5.63,"surv":0.53},{"cluster":"cluster2","time":5.94,"surv":0.488},{"cluster":"cluster2","time":6.03,"surv":0.488},{"cluster":"cluster2","time":6.13,"surv":0.488},{"cluster":"cluster2","time":6.55,"surv":0.488},{"cluster":"cluster2","time":6.64,"surv":0.488},{"cluster":"cluster2","time":6.87,"surv":0.4},{"cluster":"cluster2","time":7.47,"surv":0.314},{"cluster":"cluster2","time":7.52,"surv":0.314},{"cluster":"cluster2","time":8.49,"surv":0.314},{"cluster":"cluster2","time":8.54,"surv":0.314},{"cluster":"cluster2","time":9.42,"surv":0.157},{"cluster":"cluster2","time":9.51,"surv":0.157}
  ]},
   "mark": {"type": "point", "shape": "M-1,0L1,0M0,-1L0,1", "filled": false, "strokeWidth": 1.3, "size": 64, "opacity": 1},
   "encoding": {
    "x": {"field": "time", "type": "quantitative"},
    "y": {"field": "surv", "type": "quantitative"},
    "stroke": {"field": "cluster", "type": "nominal", "scale": {"domain": ["cluster1", "cluster2"], "range": ["#FF0000", "#00FFFF"]}, "legend": null}
   }},
  {"data": {"values": [{"t": "frame"}]}, "mark": {"type": "rect", "fill": "transparent", "stroke": "black", "strokeWidth": 1},
   "encoding": {"x": {"datum": -0.4}, "x2": {"datum": 10.45}, "y": {"datum": -0.04}, "y2": {"datum": 1.04}}},
  {"data": {"values": [{"t": "D"}]}, "mark": {"type": "text", "fontSize": 17, "fontWeight": "bold", "align": "center", "baseline": "middle"},
   "encoding": {"x": {"datum": -2.026}, "y": {"datum": 1.1318}, "text": {"field": "t"}}},
  {"data": {"values": [{"t": "Survival curve (p=4.95e-04)"}]}, "mark": {"type": "text", "fontSize": 16, "fontWeight": "bold", "align": "center", "baseline": "alphabetic"},
   "encoding": {"x": {"datum": 4.98}, "y": {"datum": 1.1576}, "text": {"field": "t"}}}
 ]
}
]
}
